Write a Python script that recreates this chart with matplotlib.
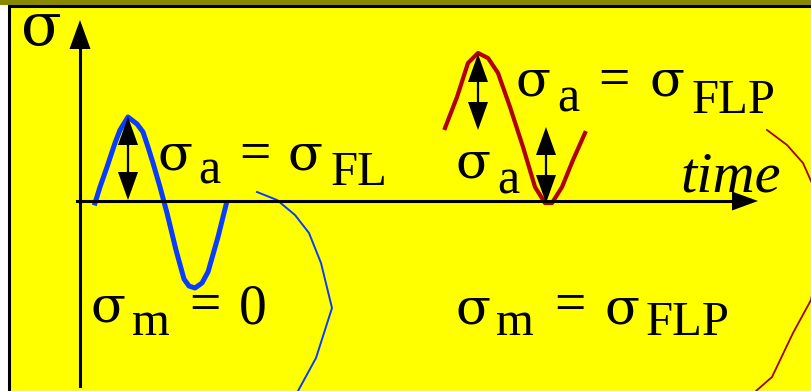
import matplotlib
matplotlib.use("Agg")
from matplotlib import pyplot as plt
from matplotlib.patches import Rectangle

# curve vertices (pixel space, y grows downward)
blue_x = [95, 100, 107, 115, 120, 128, 137, 143, 148, 153, 160, 167, 176, 184, 189, 195, 202, 208, 218, 226]
blue_y = [203, 187, 167, 143, 130, 117, 124, 132, 147, 163, 187, 213, 250, 279, 286, 288, 283, 272, 237, 205]

blue_thin_x = [257, 277, 295, 309, 321, 332, 316, 298]
blue_thin_y = [192, 200, 215, 233, 263, 308, 358, 391]

red_x = [445, 457, 468, 478, 488, 498, 510, 523, 535, 545, 552, 562, 573, 585]
red_y = [128, 97, 63, 53, 58, 73, 107, 147, 187, 203, 203, 187, 160, 133]

red_thin_x = [767, 787, 803, 815, 822, 811, 793, 772, 756]
red_thin_y = [130, 145, 163, 190, 240, 300, 333, 377, 391]

# double arrows: x, top, bottom
amp_arrows = [(128, 117, 200), (478, 54, 130), (546, 127, 203)]

# labels: x, baseline, text, size (pt), style
sigmas = [(21, 45, 43), (158, 170, 37), (288, 170, 37), (516, 96, 37), (650, 96, 37),
          (456, 178, 37), (91, 322, 37), (456, 323, 37), (605, 323, 37)]
labels = [
    (198, 184, "a", 36, "normal"),
    (239, 170, "=", 40, "normal"),
    (331, 185, "FL", 35, "normal"),
    (557, 112, "a", 36, "normal"),
    (598, 96, "=", 40, "normal"),
    (692, 113, "FLP", 35, "normal"),
    (497, 193, "a", 36, "normal"),
    (680, 192, "time", 42, "italic"),
    (132, 335, "m", 35, "normal"),
    (189, 321, "=", 40, "normal"), (239, 323, "0", 40, "normal"),
    (496, 335, "m", 35, "normal"),
    (554, 321, "=", 40, "normal"),
    (646, 335, "FLP", 35, "normal"),
]

W, H = 812, 391
fig = plt.figure(figsize=(W / 100, H / 100), dpi=100)
fig.patch.set_facecolor("white")
ax = fig.add_axes([0, 0, 1, 1])
ax.set_xlim(0, W)
ax.set_ylim(H, 0)
ax.axis("off")

# yellow panel with black frame
ax.add_patch(Rectangle((0, 0), W, 5, facecolor="#8a8a00", edgecolor="none", zorder=0))
ax.add_patch(Rectangle((9.5, 5.5), W, H, facecolor="#ffff00", edgecolor="black", lw=2.2, zorder=0))


def head(x, y, dx, dy, hl, hw):
    # filled triangle with tip at (x, y) pointing along (dx, dy)
    bx, by = x - dx * hl, y - dy * hl
    px, py = -dy * hw, dx * hw
    ax.fill([x, bx + px, bx - px], [y, by + py, by - py], color="black", lw=0, zorder=4)


# coordinate axes
ax.plot([80, 80], [386, 40], color="black", lw=2.2, zorder=3)
head(80, 20, 0, -1, 29, 10.5)
ax.plot([77, 740], [201, 201], color="black", lw=2.2, zorder=3)
head(758, 201, 1, 0, 26, 9.5)

# stress curves
ax.plot(blue_x, blue_y, color="#0a3cff", lw=3.6, solid_joinstyle="round", zorder=2)
ax.plot(blue_thin_x, blue_thin_y, color="#0a3cff", lw=1.4, zorder=2)
ax.plot(red_x, red_y, color="#b00000", lw=3.0, solid_joinstyle="round", zorder=2)
ax.plot(red_thin_x, red_thin_y, color="#a00000", lw=1.3, zorder=2)

for x, top, bot in amp_arrows:
    ax.plot([x, x], [top + 20, bot - 20], color="black", lw=1.6, zorder=4)
    head(x, top, 0, -1, 28, 10)
    head(x, bot, 0, 1, 28, 10)

for x, y, size in sigmas:
    ax.text(x, y, "σ", fontsize=size, family="DejaVu Serif",
            ha="left", va="baseline", color="black", zorder=5)

for x, y, s, size, style in labels:
    ax.text(x, y, s, fontsize=size, fontstyle=style, family=["Liberation Serif", "DejaVu Serif"],
            ha="left", va="baseline", color="black", zorder=5)

fig.savefig("out.png", dpi=100, facecolor=fig.get_facecolor())
